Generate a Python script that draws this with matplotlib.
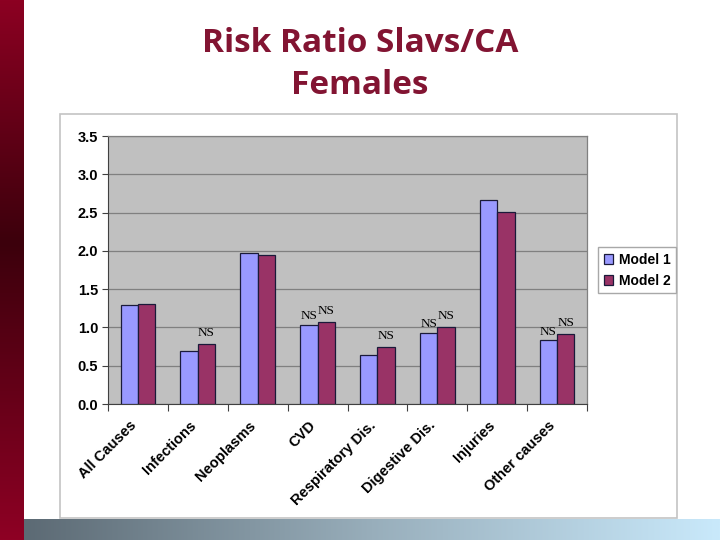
import matplotlib
matplotlib.use('Agg')
import matplotlib.pyplot as plt
import matplotlib.transforms as mtransforms
import numpy as np
from matplotlib.patches import Rectangle
from matplotlib.colors import LinearSegmentedColormap

categories = ['All Causes', 'Infections', 'Neoplasms', 'CVD', 'Respiratory Dis.',
              'Digestive Dis.', 'Injuries', 'Other causes']
model1 = [1.29, 0.69, 1.975, 1.03, 0.64, 0.93, 2.66, 0.83]
model2 = [1.31, 0.78, 1.945, 1.07, 0.75, 1.01, 2.51, 0.91]
ns_model1 = [False, False, False, True, False, True, False, True]
ns_model2 = [False, True, False, True, True, True, False, True]
series_names = ['Model 1', 'Model 2']
yticks = [0.0, 0.5, 1.0, 1.5, 2.0, 2.5, 3.0, 3.5]

W, H = 720, 540
fig = plt.figure(figsize=(7.2, 5.4), dpi=100)
fig.patch.set_facecolor('white')

# left red gradient bar
axl = fig.add_axes([0, 0, 24 / W, 1])
cm_l = LinearSegmentedColormap.from_list('l', [(0, '#8c0022'), (0.45, '#3c000c'), (1, '#8e0024')])
axl.imshow(np.linspace(0, 1, 256).reshape(-1, 1), aspect='auto', cmap=cm_l, extent=[0, 1, 1, 0])
axl.set_axis_off()

# bottom gradient strip
axb = fig.add_axes([24 / W, 0, 1 - 24 / W, 21 / H])
cm_b = LinearSegmentedColormap.from_list('b', ['#5c6a74', '#98aebb', '#c9e9fb'])
axb.imshow(np.linspace(0, 1, 256).reshape(1, -1), aspect='auto', cmap=cm_b)
axb.set_axis_off()

# chart box
fig.patches.append(Rectangle((60 / W, 1 - 518 / H), (677 - 60) / W, (518 - 114) / H,
                             transform=fig.transFigure, facecolor='white',
                             edgecolor='#c4c4c4', linewidth=1.2, zorder=-1))

fig.text(0.5, 1 - 44 / H, 'Risk Ratio Slavs/CA', ha='center', va='center', fontsize=24,
         weight='bold', color='#821432', family='Open Sans')
fig.text(0.5, 1 - 86 / H, 'Females', ha='center', va='center', fontsize=24,
         weight='bold', color='#821432', family='Open Sans')

ax = fig.add_axes([108 / W, 1 - 404 / H, 479 / W, 268 / H])
ax.set_zorder(2)
ax.set_facecolor('#c0c0c0')
x = np.arange(len(categories))
w = 0.29
c1, c2 = '#9999ff', '#993366'
b1 = ax.bar(x - w / 2, model1, w, color=c1, edgecolor='#1a1a3a', linewidth=0.9, zorder=3, label=series_names[0])
b2 = ax.bar(x + w / 2, model2, w, color=c2, edgecolor='#1a1a3a', linewidth=0.9, zorder=3, label=series_names[1])

for i in range(len(categories)):
    if ns_model1[i]:
        ax.annotate('NS', (x[i] - w / 2, model1[i]), xytext=(0, 2), textcoords='offset points',
                    ha='center', va='bottom', fontsize=9.5, family='Liberation Serif')
    if ns_model2[i]:
        ax.annotate('NS', (x[i] + w / 2, model2[i]), xytext=(0, 3.5), textcoords='offset points',
                    ha='center', va='bottom', fontsize=9.5, family='Liberation Serif')

ax.set_xlim(-0.5, len(categories) - 0.5)
ax.set_ylim(0, 3.5)
ax.set_yticks(yticks)
ax.set_yticklabels([f'{v:.1f}' for v in yticks], fontsize=10.5, weight='bold', family='Liberation Sans')
ax.yaxis.grid(True, color='#808080', linewidth=0.9, zorder=1)
ax.set_axisbelow(True)
ax.tick_params(axis='y', length=4, width=0.8, color='#404040', pad=3)

ax.set_xticks(x)
ax.set_xticklabels(categories, rotation=45, ha='right', rotation_mode='anchor',
                   fontsize=10.5, weight='bold', family='Liberation Sans')
ax.tick_params(axis='x', which='major', length=0, pad=8)
ax.set_xticks(np.arange(-0.5, len(categories), 1.0), minor=True)
ax.tick_params(axis='x', which='minor', length=5, width=0.8, color='#404040')
offset = mtransforms.ScaledTranslation(-9 / 100, -3 / 100, fig.dpi_scale_trans)
for lab in ax.get_xticklabels():
    lab.set_transform(lab.get_transform() + offset)

for s in ['top', 'right']:
    ax.spines[s].set_color('#808080')
    ax.spines[s].set_linewidth(0.9)
ax.spines['left'].set_color('#404040')
ax.spines['bottom'].set_color('#404040')

leg = fig.legend(handles=[b1, b2], loc='upper left', bbox_to_anchor=(598 / W, 1 - 247 / H),
                 frameon=True, fancybox=False, edgecolor='#a8a8a8', framealpha=1,
                 prop={'family': 'Liberation Sans', 'weight': 'bold', 'size': 10},
                 handlelength=0.7, handleheight=0.7, handletextpad=0.4,
                 borderpad=0.4, labelspacing=0.5, borderaxespad=0)
leg.set_zorder(3)

fig.savefig('out.png', dpi=100)
